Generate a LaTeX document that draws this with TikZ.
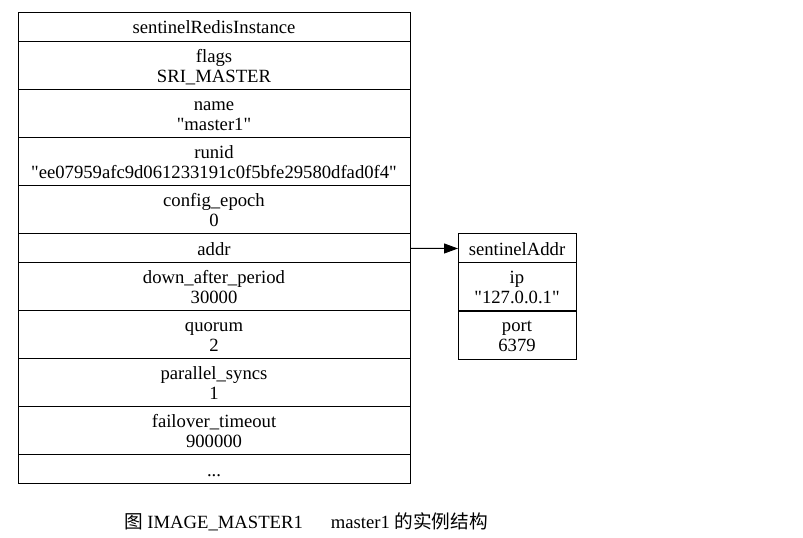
\documentclass[tikz,border=0pt]{standalone}
\usepackage{fontspec}
\setmainfont{Liberation Serif}
\newfontfamily\cjk{Noto Sans CJK SC}
\usetikzlibrary{positioning}
\usetikzlibrary{arrows.meta}

% one line of a cell, as graphviz sets it
\newcommand{\cellstrut}{\rule[-2.3pt]{0pt}{14.5pt}}
% a cell of two lines: field name and value
\newcommand{\field}[2]{{\renewcommand{\arraystretch}{0}%
  \begin{tabular}{@{}c@{}}\cellstrut#1\\\cellstrut#2\end{tabular}}}

\tikzset{
  cell/.style={draw, line width=0.75pt, outer sep=0pt, inner sep=0pt,
    minimum height=36pt, font=\fontsize{14}{14.5}\selectfont},
  bigcell/.style={cell, minimum width=294pt},
  smallcell/.style={cell, minimum width=88.5pt},
}

\begin{document}
\begin{tikzpicture}[x=0.75pt,y=-0.75pt]
  \useasboundingbox (0,0) rectangle (803,538);
  % sentinelRedisInstance
  \node[bigcell, minimum height=22.1pt] (head) at (214,27.25) {\cellstrut sentinelRedisInstance};
  \node[bigcell, below=0pt of head] (flags) {\field{flags}{SRI\_MASTER}};
  \node[bigcell, below=0pt of flags] (name) {\field{name}{\textquotedbl master1\textquotedbl}};
  \node[bigcell, below=0pt of name] (runid) {\field{runid}{\textquotedbl ee07959afc9d061233191c0f5bfe29580dfad0f4\textquotedbl}};
  \node[bigcell, below=0pt of runid] (epoch) {\field{config\_epoch}{0}};
  \node[bigcell, below=0pt of epoch, minimum height=21.75pt] (addr) {\cellstrut addr};
  \node[bigcell, below=0pt of addr] (down) {\field{down\_after\_period}{30000}};
  \node[bigcell, below=0pt of down] (quorum) {\field{quorum}{2}};
  \node[bigcell, below=0pt of quorum] (syncs) {\field{parallel\_syncs}{1}};
  \node[bigcell, below=0pt of syncs] (timeout) {\field{failover\_timeout}{900000}};
  \node[bigcell, below=0pt of timeout, minimum height=21.75pt] (more) {\cellstrut ...};
  % sentinelAddr
  \node[smallcell, minimum height=21.75pt] (sa) at (517,248.5) {\cellstrut sentinelAddr};
  \node[smallcell, below=0pt of sa] (ip) {\field{ip}{\textquotedbl 127.0.0.1\textquotedbl}};
  \node[smallcell, below=0pt of ip] (port) {\field{port}{6379}};
  \draw[line width=0.75pt, -{Triangle[length=10.5pt,width=7.5pt]}] (addr.east) -- (sa.west);
  % caption
  \node[font=\fontsize{14}{16}\selectfont] (caption) at (306,522)
    {{\cjk 图} IMAGE\_MASTER1\hspace{21pt}master1 {\cjk 的实例结构}};
\end{tikzpicture}
\end{document}
